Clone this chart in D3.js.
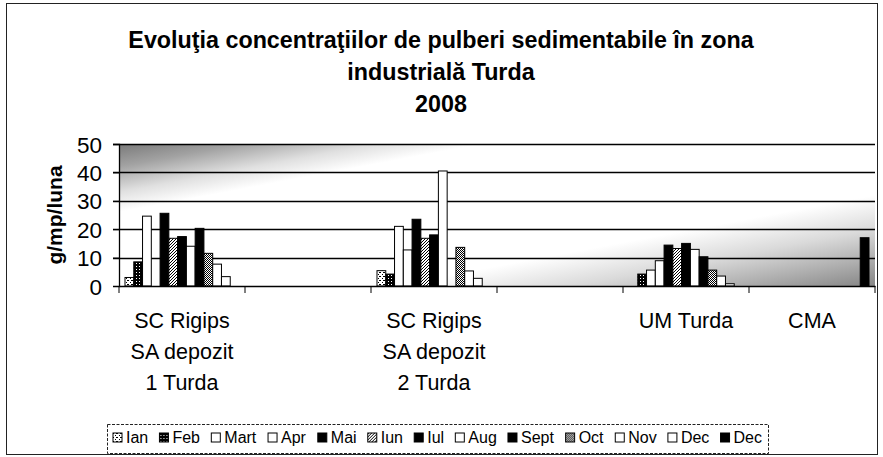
<!DOCTYPE html>
<html>
<head>
<meta charset="utf-8">
<script src="https://cdn.jsdelivr.net/npm/d3@7"></script>
<style>
  html, body { margin: 0; padding: 0; background: #fff; }
  svg { display: block; font-family: "Liberation Sans", Arial, sans-serif; }
</style>
</head>
<body>
<svg id="chart" width="883" height="457"></svg>
<script>
// ---------- data ----------
const titleLines = ["Evoluţia concentraţiilor de pulberi sedimentabile în zona", "industrială Turda", "2008"];
const yTitle = "g/mp/luna";
const categories = ["SC Rigips|SA depozit|1 Turda", "", "SC Rigips|SA depozit|2 Turda", "", "UM Turda", "CMA"];
const seriesNames = ["Ian", "Feb", "Mart", "Apr", "Mai", "Iun", "Iul", "Aug", "Sept", "Oct", "Nov", "Dec", "Dec"];
const yTicks = [0, 10, 20, 30, 40, 50];

const ian  = [3.0, 0, 5.4, 0, 0, 0];
const feb  = [8.5, 0, 4.2, 0, 4.2, 0];
const mart = [24.6, 0, 21.0, 0, 5.6, 0];
const apr  = [0, 0, 12.7, 0, 8.9, 0];
const mai  = [25.6, 0, 23.5, 0, 14.4, 0];
const iun  = [16.8, 0, 16.8, 0, 13.2, 0];
const iul  = [17.4, 0, 18.0, 0, 15.0, 0];
const aug  = [14.0, 0, 40.5, 0, 12.9, 0];
const sept = [20.3, 0, 0, 0, 10.3, 0];
const oct  = [11.5, 0, 13.6, 0, 5.6, 0];
const nov  = [7.7, 0, 5.3, 0, 3.5, 0];
const dec  = [3.3, 0, 2.7, 0, 0.8, 0];
const dec2 = [0, 0, 0, 0, 0, 17.0];
const seriesValues = [ian, feb, mart, apr, mai, iun, iul, aug, sept, oct, nov, dec, dec2];

// fills (styles)
const seriesFills = ["url(#p-light)", "url(#p-vdark)", "#fff", "#fff", "#000", "url(#p-med)", "#000", "#fff", "#000", "url(#p-dark)", "#fff", "#fff", "#000"];

// ---------- layout ----------
const svg = d3.select("#chart");
const plot = { left: 119, right: 875, top: 144, bottom: 286 };
const FONT = "Liberation Sans, Arial, sans-serif";

const defs = svg.append("defs");
function dither(id, size, pixels) {
  const p = defs.append("pattern").attr("id", id).attr("patternUnits", "userSpaceOnUse")
    .attr("width", size).attr("height", size);
  p.append("rect").attr("width", size).attr("height", size).attr("fill", "#fff");
  pixels.forEach(([x, y]) => p.append("rect").attr("x", x).attr("y", y).attr("width", 1).attr("height", 1).attr("fill", "#000"));
}
dither("p-light", 4, [[0, 0], [2, 2], [3, 0]]);
dither("p-med", 3, [[0, 0], [2, 1], [1, 2]]);
dither("p-dark", 2, [[0, 0], [1, 1]]);
dither("p-vdark", 3, [[0, 0], [1, 0], [2, 0], [0, 1], [1, 1], [0, 2], [2, 2], [2, 1]]);

const grad = defs.append("linearGradient").attr("id", "bg").attr("x1", 0).attr("y1", 0).attr("x2", 1).attr("y2", 1);
[[0, "#7a7a7a"], [0.08, "#a2a2a2"], [0.17, "#e0e0e0"], [0.24, "#ffffff"], [0.68, "#ffffff"], [0.8, "#dadada"], [0.9, "#b0b0b0"], [1, "#858585"]]
  .forEach(([o, c]) => grad.append("stop").attr("offset", o).attr("stop-color", c));

// outer border
svg.append("rect").attr("x", 6.5).attr("y", 3.5).attr("width", 871).attr("height", 451)
  .attr("fill", "#fff").attr("stroke", "#222").attr("stroke-width", 1);

// title
svg.append("g").selectAll("text").data(titleLines).join("text")
  .attr("x", 441).attr("y", (d, i) => 48 + i * 32)
  .attr("text-anchor", "middle").attr("font-weight", "bold").attr("font-size", 23.3)
  .text(d => d);

// scales
const x0 = d3.scaleBand().domain(d3.range(categories.length)).range([plot.left, plot.right]).paddingInner(0).paddingOuter(0);
const gapHalf = 6;
const x1 = d3.scaleBand().domain(d3.range(seriesNames.length)).range([gapHalf, x0.bandwidth() - gapHalf]).padding(0);
const y = d3.scaleLinear().domain([0, 50]).range([plot.bottom, plot.top]);

// plot background
svg.append("rect").attr("x", plot.left).attr("y", plot.top)
  .attr("width", plot.right - plot.left).attr("height", plot.bottom - plot.top)
  .attr("fill", "url(#bg)");

// gridlines
svg.append("g").selectAll("line").data(yTicks.filter(t => t > 0)).join("line")
  .attr("x1", plot.left - 6).attr("x2", plot.right)
  .attr("y1", d => Math.round(y(d)) + 0.5).attr("y2", d => Math.round(y(d)) + 0.5)
  .attr("stroke", "#000").attr("stroke-width", 1.3);

// bars
const barData = [];
seriesValues.forEach((vals, s) => vals.forEach((v, c) => { if (v > 0) barData.push({ s, c, v }); }));
svg.append("g").selectAll("rect").data(barData).join("rect")
  .attr("x", d => x0(d.c) + x1(d.s))
  .attr("y", d => y(d.v))
  .attr("width", x1.bandwidth())
  .attr("height", d => y(0) - y(d.v))
  .attr("fill", d => seriesFills[d.s])
  .attr("stroke", "#000").attr("stroke-width", 1);

// y axis
const yAxis = d3.axisLeft(y).tickValues(yTicks).tickSize(6).tickPadding(11).tickFormat(d3.format("d"));
const gy = svg.append("g").attr("transform", `translate(${plot.left},0)`).call(yAxis);
gy.attr("font-family", FONT);
gy.select(".domain").attr("stroke", "#000").attr("stroke-width", 1.3);
gy.selectAll(".tick line").attr("stroke", "#000");
gy.selectAll(".tick text").attr("font-size", 22.5).attr("fill", "#000").attr("dy", "0.36em");

// x axis
const xAxis = d3.axisBottom(x0).tickSize(0).tickFormat("");
const gx = svg.append("g").attr("transform", `translate(0,${plot.bottom})`).call(xAxis);
gx.select(".domain").attr("stroke", "#000").attr("stroke-width", 1.5);
gx.append("g").selectAll("line").data(d3.range(categories.length + 1)).join("line")
  .attr("x1", i => i < categories.length ? x0(i) : plot.right)
  .attr("x2", i => i < categories.length ? x0(i) : plot.right)
  .attr("y1", 0).attr("y2", 7).attr("stroke", "#000");

// category labels
const lab = svg.append("g");
categories.forEach((c, i) => {
  if (!c) return;
  const lines = c.split("|");
  lab.append("text").attr("text-anchor", "middle").attr("font-size", 21.5)
    .selectAll("tspan").data(lines).join("tspan")
    .attr("x", x0(i) + x0.bandwidth() / 2)
    .attr("y", (d, k) => 328 + k * 31)
    .text(d => d);
});

// y title
svg.append("text").attr("transform", "translate(62,215) rotate(-90)")
  .attr("text-anchor", "middle").attr("font-weight", "bold").attr("font-size", 21)
  .text(yTitle);

// legend
const legBox = { x: 107, y: 424, w: 661, h: 29 };
svg.append("rect").attr("x", legBox.x + 0.5).attr("y", legBox.y + 0.5).attr("width", legBox.w).attr("height", legBox.h)
  .attr("fill", "#fff").attr("stroke", "#222").attr("stroke-dasharray", "3,1.5");
const leg = svg.append("g");
const items = leg.selectAll("g").data(seriesNames).join("g");
items.append("rect").attr("width", 9).attr("height", 9)
  .attr("fill", (d, i) => seriesFills[i]).attr("stroke", "#000");
items.append("text").attr("x", 13).attr("y", 9.5).attr("font-size", 16).text(d => d);
const widths = [];
items.each(function () { widths.push(this.getBBox().width); });
const total = d3.sum(widths);
const gap = (legBox.w - 12 - total) / (seriesNames.length - 1);
let cx = legBox.x + 6;
items.attr("transform", (d, i) => { const t = `translate(${cx},${legBox.y + 9})`; cx += widths[i] + gap; return t; });
</script>
</body>
</html>
